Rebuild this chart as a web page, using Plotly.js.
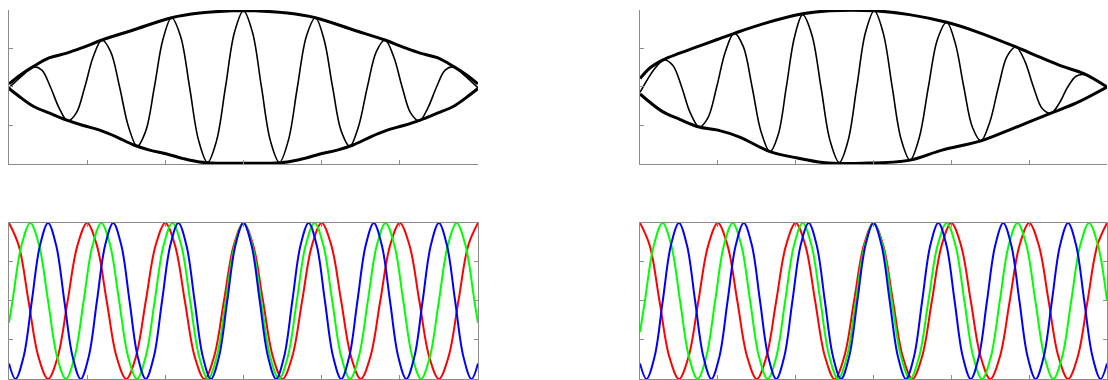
<!DOCTYPE html>
<html>
<head>
<meta charset="utf-8">
<script src="https://cdn.plot.ly/plotly-3.0.1.min.js"></script>
<style>
  body { margin: 0; background: #fff; }
  #chart { width: 1108px; height: 380px; }
</style>
</head>
<body>
<div id="chart"></div>
<script>
// values (x in tick units 0..6, y in -1..1)

// top left: modulated wave and its envelope
var tlWaveX = [0, 0.195, 0.31, 0.42, 0.53, 0.64, 0.75, 0.86, 0.97, 1.08, 1.19, 1.30, 1.415, 1.53, 1.64, 1.75, 1.86, 1.97, 2.08, 2.195, 2.31, 2.425, 2.54, 2.655, 2.77, 2.885, 3.0,
               3.115, 3.23, 3.345, 3.46, 3.575, 3.69, 3.805, 3.92, 4.03, 4.14, 4.25, 4.36, 4.47, 4.585, 4.70, 4.81, 4.92, 5.03, 5.14, 5.25, 5.36, 5.47, 5.58, 5.69, 5.805, 6.0];
var tlWaveY = [-0.01, 0.17, 0.26, 0.22, 0, -0.27, -0.44, -0.34, 0, 0.40, 0.61, 0.46, 0, -0.52, -0.77, -0.57, 0, 0.62, 0.90, 0.66, 0, -0.69, -0.98, -0.70, 0, 0.71, 0.99,
               0.71, 0, -0.70, -0.98, -0.69, 0, 0.66, 0.90, 0.62, 0, -0.57, -0.77, -0.52, 0, 0.46, 0.61, 0.40, 0, -0.34, -0.44, -0.27, 0, 0.22, 0.26, 0.17, -0.01];
var tlUpperX = [0, 0.15, 0.31, 0.52, 0.74, 0.95, 1.19, 1.59, 2.08, 2.44, 2.86, 3.0, 3.14, 3.56, 3.92, 4.41, 4.81, 5.05, 5.26, 5.48, 5.69, 5.85, 6.0];
var tlUpperY = [0.04, 0.16, 0.265, 0.38, 0.44, 0.515, 0.61, 0.74, 0.90, 0.96, 0.99, 0.99, 0.99, 0.96, 0.90, 0.74, 0.61, 0.515, 0.44, 0.38, 0.265, 0.16, 0.04];
var tlLowerX = [0, 0.14, 0.31, 0.52, 0.74, 0.95, 1.16, 1.38, 1.59, 1.8, 2.02, 2.23, 2.44, 2.66, 3.0, 3.34, 3.56, 3.77, 3.98, 4.2, 4.41, 4.62, 4.84, 5.05, 5.26, 5.48, 5.69, 5.86, 6.0];
var tlLowerY = [-0.02, -0.13, -0.25, -0.34, -0.43, -0.50, -0.56, -0.65, -0.75, -0.82, -0.87, -0.93, -0.975, -0.99, -0.99, -0.99, -0.975, -0.93, -0.87, -0.82, -0.75, -0.65, -0.56, -0.50, -0.43, -0.34, -0.25, -0.13, -0.02];

// top right
var trWaveX = [0, 0.19, 0.31, 0.4225, 0.535, 0.6475, 0.76, 0.8725, 0.985, 1.0975, 1.21, 1.325, 1.44, 1.555, 1.67, 1.775, 1.88, 1.985, 2.09, 2.2075, 2.325, 2.4425, 2.56, 2.6725, 2.785, 2.8975, 3.01,
               3.125, 3.24, 3.355, 3.47, 3.5875, 3.705, 3.8225, 3.94, 4.05, 4.16, 4.27, 4.38, 4.4925, 4.605, 4.7175, 4.83, 4.9425, 5.055, 5.1675, 5.28, 5.3875, 5.495, 5.6025, 5.71, 5.855, 6.0];
var trWaveY = [-0.07, 0.24, 0.35, 0.28, 0, -0.34, -0.52, -0.40, 0, 0.46, 0.70, 0.53, 0, -0.58, -0.84, -0.62, 0, 0.65, 0.94, 0.68, 0, -0.70, -0.98, -0.70, 0, 0.71, 0.99,
               0.70, 0, -0.68, -0.95, -0.66, 0, 0.62, 0.84, 0.57, 0, -0.52, -0.70, -0.46, 0, 0.40, 0.52, 0.34, 0, -0.28, -0.34, -0.21, 0, 0.14, 0.16, 0.09, 0];
var trUpperX = [0, 0.13, 0.29, 0.51, 0.73, 1.0, 1.22, 1.58, 2.09, 2.44, 3.01, 3.46, 3.94, 4.32, 4.83, 5.13, 5.42, 5.71, 6.0];
var trUpperY = [0.11, 0.25, 0.35, 0.44, 0.52, 0.62, 0.70, 0.82, 0.95, 0.99, 0.99, 0.94, 0.84, 0.72, 0.52, 0.39, 0.27, 0.17, 0];
var trLowerX = [0, 0.29, 0.51, 0.76, 1.0, 1.28, 1.67, 2.01, 2.35, 2.86, 3.47, 3.88, 4.38, 4.74, 5.28, 5.6, 6.0];
var trLowerY = [-0.09, -0.32, -0.42, -0.52, -0.56, -0.65, -0.84, -0.92, -0.98, -0.99, -0.95, -0.82, -0.70, -0.56, -0.34, -0.21, 0];

// bottom left: red, green and blue cosines
var blRedX = [0, 0.125, 0.25, 0.375, 0.5, 0.625, 0.75, 0.875, 1, 1.125, 1.25, 1.375, 1.5, 1.625, 1.75, 1.875, 2, 2.125, 2.25, 2.375, 2.5, 2.625, 2.75, 2.875, 3,
              3.125, 3.25, 3.375, 3.5, 3.625, 3.75, 3.875, 4, 4.125, 4.25, 4.375, 4.5, 4.625, 4.75, 4.875, 5, 5.125, 5.25, 5.375, 5.5, 5.625, 5.75, 5.875, 6];
var blRedY = [1, 0.71, 0, -0.71, -1, -0.71, 0, 0.71, 1, 0.71, 0, -0.71, -1, -0.71, 0, 0.71, 1, 0.71, 0, -0.71, -1, -0.71, 0, 0.71, 1,
              0.71, 0, -0.71, -1, -0.71, 0, 0.71, 1, 0.71, 0, -0.71, -1, -0.71, 0, 0.71, 1, 0.71, 0, -0.71, -1, -0.71, 0, 0.71, 1];
var blGreenX = [0, 0.045, 0.159, 0.273, 0.386, 0.5, 0.614, 0.727, 0.841, 0.955, 1.068, 1.182, 1.295, 1.409, 1.523, 1.636, 1.75, 1.864, 1.977, 2.091, 2.205, 2.318, 2.432, 2.545, 2.659, 2.773, 2.886, 3.0,
                3.114, 3.227, 3.341, 3.455, 3.568, 3.682, 3.795, 3.909, 4.023, 4.136, 4.25, 4.364, 4.477, 4.591, 4.705, 4.818, 4.932, 5.045, 5.159, 5.273, 5.386, 5.5, 5.614, 5.727, 5.841, 5.955, 6];
var blGreenY = [-0.28, 0, 0.71, 1, 0.71, 0, -0.71, -1, -0.71, 0, 0.71, 1, 0.71, 0, -0.71, -1, -0.71, 0, 0.71, 1, 0.71, 0, -0.71, -1, -0.71, 0, 0.71, 1,
                0.71, 0, -0.71, -1, -0.71, 0, 0.71, 1, 0.71, 0, -0.71, -1, -0.71, 0, 0.71, 1, 0.71, 0, -0.71, -1, -0.71, 0, 0.71, 1, 0.71, 0, -0.28];
var blBlueX = [0, 0.083, 0.188, 0.292, 0.396, 0.5, 0.604, 0.708, 0.813, 0.917, 1.021, 1.125, 1.229, 1.333, 1.438, 1.542, 1.646, 1.75, 1.854, 1.958, 2.063, 2.167, 2.271, 2.375, 2.479, 2.583, 2.688, 2.792, 2.896, 3.0,
               3.104, 3.208, 3.313, 3.417, 3.521, 3.625, 3.729, 3.833, 3.938, 4.042, 4.146, 4.25, 4.354, 4.458, 4.563, 4.667, 4.771, 4.875, 4.979, 5.083, 5.188, 5.292, 5.396, 5.5, 5.604, 5.708, 5.813, 5.917, 6];
var blBlueY = [-0.8, -1, -0.71, 0, 0.71, 1, 0.71, 0, -0.71, -1, -0.71, 0, 0.71, 1, 0.71, 0, -0.71, -1, -0.71, 0, 0.71, 1, 0.71, 0, -0.71, -1, -0.71, 0, 0.71, 1,
               0.71, 0, -0.71, -1, -0.71, 0, 0.71, 1, 0.71, 0, -0.71, -1, -0.71, 0, 0.71, 1, 0.71, 0, -0.71, -1, -0.71, 0, 0.71, 1, 0.71, 0, -0.71, -1, -0.8];

// bottom right
var brRedX = blRedX.slice();
var brRedY = blRedY.slice();
var brGreenX = [0, 0.0625, 0.176, 0.29, 0.4025, 0.515, 0.6275, 0.74, 0.8525, 0.965, 1.0775, 1.19, 1.3025, 1.415, 1.5275, 1.64, 1.7525, 1.865, 1.9775, 2.09, 2.204, 2.3175, 2.431, 2.545, 2.659, 2.7725, 2.886, 3.0,
                3.1175, 3.235, 3.3525, 3.47, 3.5875, 3.705, 3.8225, 3.94, 4.054, 4.1675, 4.281, 4.395, 4.509, 4.6225, 4.736, 4.85, 4.965, 5.08, 5.195, 5.31, 5.425, 5.54, 5.655, 5.77, 5.885, 6.0];
var brGreenY = [-0.4, 0, 0.71, 1, 0.71, 0, -0.71, -1, -0.71, 0, 0.71, 1, 0.71, 0, -0.71, -1, -0.71, 0, 0.71, 1, 0.71, 0, -0.71, -1, -0.71, 0, 0.71, 1,
                0.71, 0, -0.71, -1, -0.71, 0, 0.71, 1, 0.71, 0, -0.71, -1, -0.71, 0, 0.71, 1, 0.71, 0, -0.71, -1, -0.71, 0, 0.71, 1, 0.71, 0];
var brBlueX = blBlueX.slice();
var brBlueY = blBlueY.slice();

var axisGrey = '#8c8c8c';

function axis(dom, anchor, range, dtick, mirror) {
  return {
    domain: dom, anchor: anchor, range: range, tick0: 0, dtick: dtick,
    ticks: 'inside', ticklen: 4, tickwidth: 1, tickcolor: axisGrey,
    showline: true, linecolor: axisGrey, linewidth: 1, mirror: mirror,
    showgrid: false, zeroline: false, showticklabels: false, fixedrange: true
  };
}

function line(x, y, xa, ya, color, width) {
  return {
    type: 'scatter', mode: 'lines', x: x, y: y, xaxis: xa, yaxis: ya,
    line: {color: color, width: width, shape: 'spline', smoothing: 1},
    hoverinfo: 'skip', showlegend: false
  };
}

var data = [
  line(tlUpperX, tlUpperY, 'x', 'y', '#000', 3),
  line(tlLowerX, tlLowerY, 'x', 'y', '#000', 3),
  line(tlWaveX, tlWaveY, 'x', 'y', '#000', 1.6),
  line(trUpperX, trUpperY, 'x2', 'y2', '#000', 3),
  line(trLowerX, trLowerY, 'x2', 'y2', '#000', 3),
  line(trWaveX, trWaveY, 'x2', 'y2', '#000', 1.6),
  line(blRedX, blRedY, 'x3', 'y3', '#ff0000', 2),
  line(blGreenX, blGreenY, 'x3', 'y3', '#00ff00', 2),
  line(blBlueX, blBlueY, 'x3', 'y3', '#0000ff', 2),
  line(brRedX, brRedY, 'x4', 'y4', '#ff0000', 2),
  line(brGreenX, brGreenY, 'x4', 'y4', '#00ff00', 2),
  line(brBlueX, brBlueY, 'x4', 'y4', '#0000ff', 2)
];

var leftDom = [0, 0.4271], rightDom = [0.5747, 1];
var topDom = [0.5827, 1], botDom = [0, 0.4228];

var layout = {
  width: 1108, height: 380,
  margin: {l: 9, r: 1, t: 10, b: 1},
  paper_bgcolor: '#fff', plot_bgcolor: '#fff',
  showlegend: false,
  xaxis: axis(leftDom, 'y', [0, 6], 1, false),
  yaxis: axis(topDom, 'x', [-1, 1], 0.5, false),
  xaxis2: axis(rightDom, 'y2', [0, 6], 1, false),
  yaxis2: axis(topDom, 'x2', [-1, 1], 0.5, false),
  xaxis3: axis(leftDom, 'y3', [0, 6], 1, 'ticks'),
  yaxis3: axis(botDom, 'x3', [-1, 1], 0.5, 'ticks'),
  xaxis4: axis(rightDom, 'y4', [0, 6], 1, 'ticks'),
  yaxis4: axis(botDom, 'x4', [-1, 1], 0.5, 'ticks')
};

Plotly.newPlot('chart', data, layout, {displayModeBar: false, staticPlot: true});
</script>
</body>
</html>
